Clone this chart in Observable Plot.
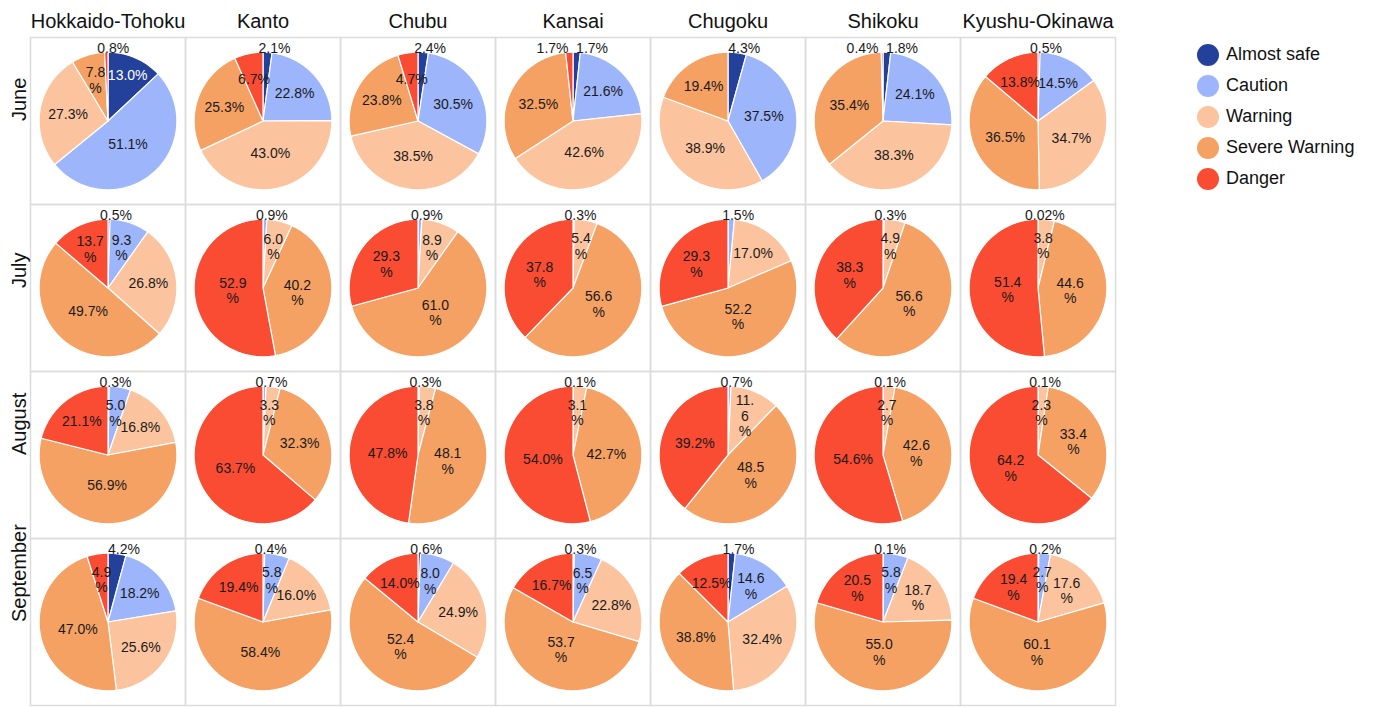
<!DOCTYPE html>
<html>
<head>
<meta charset="utf-8">
<script src="https://cdn.jsdelivr.net/npm/d3@7"></script>
<script src="https://cdn.jsdelivr.net/npm/@observablehq/plot@0.6"></script>
<style>
  html, body { margin: 0; padding: 0; background: #fff; }
  #wrap { position: relative; width: 1374px; height: 707px; font-family: "Liberation Sans", Arial, Helvetica, sans-serif; }
  #legend { position: absolute; left: 1197px; top: 39px; }
  .item { display: flex; align-items: center; height: 31px; font-size: 18px; color: #111; }
  .sw { width: 22px; height: 22px; border-radius: 50%; margin-right: 7px; }
</style>
</head>
<body>
<div id="wrap"><div id="legend"></div></div>
<script>
// ---- data ----
const regions = ["Hokkaido-Tohoku", "Kanto", "Chubu", "Kansai", "Chugoku", "Shikoku", "Kyushu-Okinawa"];
const months = ["June", "July", "August", "September"];
const levels = ["Almost safe", "Caution", "Warning", "Severe Warning", "Danger"];
const levelColors = ["#23409a", "#9db5fa", "#fbc49e", "#f5a163", "#f94c32"];

// shares (%) per region, in the order of `levels`
const june = [[13.0, 51.1, 27.3, 7.8, 0.8], [2.1, 22.8, 43.0, 25.3, 6.7], [2.4, 30.5, 38.5, 23.8, 4.7], [1.7, 21.6, 42.6, 32.5, 1.7], [4.3, 37.5, 38.9, 19.4, 0], [1.8, 24.1, 38.3, 35.4, 0.4], [0.5, 14.5, 34.7, 36.5, 13.8]];
const july = [[0.5, 9.3, 26.8, 49.7, 13.7], [0, 0.9, 6.0, 40.2, 52.9], [0, 0.9, 8.9, 61.0, 29.3], [0, 0.3, 5.4, 56.6, 37.8], [0, 1.5, 17.0, 52.2, 29.3], [0, 0.3, 4.9, 56.6, 38.3], [0, 0.02, 3.8, 44.6, 51.4]];
const august = [[0.3, 5.0, 16.8, 56.9, 21.1], [0, 0.7, 3.3, 32.3, 63.7], [0, 0.3, 3.8, 48.1, 47.8], [0, 0.1, 3.1, 42.7, 54.0], [0, 0.7, 11.6, 48.5, 39.2], [0, 0.1, 2.7, 42.6, 54.6], [0, 0.1, 2.3, 33.4, 64.2]];
const september = [[4.2, 18.2, 25.6, 47.0, 4.9], [0.4, 5.8, 16.0, 58.4, 19.4], [0.6, 8.0, 24.9, 52.4, 14.0], [0.3, 6.5, 22.8, 53.7, 16.7], [1.7, 14.6, 32.4, 38.8, 12.5], [0.1, 5.8, 18.7, 55.0, 20.5], [0.2, 2.7, 17.6, 60.1, 19.4]];

// label line-wrapping as in the source (per level: 0 none, 1 "%" on new line, 2 also break after ".")
const wrapJune = ["00010", "00000", "00000", "00000", "00000", "00000", "00000"];
const wrapJuly = ["01001", "00111", "00111", "00111", "00011", "00111", "00111"];
const wrapAugust = ["01000", "00100", "00110", "00100", "00210", "00110", "00111"];
const wrapSeptember = ["00001", "01000", "01010", "01010", "01000", "01111", "01111"];

const monthValues = [june, july, august, september];
const monthWraps = [wrapJune, wrapJuly, wrapAugust, wrapSeptember];

// ---- layout ----
const W = 1374, H = 707;
const mL = 29, mR = 258, mT = 36, mB = 1;
const R = 69; // pie radius in px
const cellW = (W - mL - mR) / regions.length;
const cellH = (H - mT - mB) / months.length;
const xHalf = cellW / 2 / R, yHalf = cellH / 2 / R;

// ---- build slice polygons and labels ----
const slicePts = [];
const inLabels = [];
const outLabels = [];
const fmt = v => v < 0.1 ? v.toFixed(2) + "%" : v.toFixed(1) + "%";

months.forEach((m, mi) => {
  regions.forEach((r, ri) => {
    const vals = monthValues[mi][ri];
    const wraps = monthWraps[mi][ri];
    const total = d3.sum(vals);
    let acc = 0;
    const outs = [];
    vals.forEach((v, li) => {
      if (v <= 0) return;
      const a0 = acc / total * 2 * Math.PI;
      acc += v;
      const a1 = acc / total * 2 * Math.PI;
      const key = m + "|" + r + "|" + li;
      const n = Math.max(2, Math.ceil((a1 - a0) / (Math.PI / 180)));
      slicePts.push({month: m, region: r, level: levels[li], key, x: 0, y: 0});
      for (let k = 0; k <= n; k++) {
        const a = a0 + (a1 - a0) * k / n;
        slicePts.push({month: m, region: r, level: levels[li], key, x: Math.sin(a), y: Math.cos(a)});
      }
      slicePts.push({month: m, region: r, level: levels[li], key, x: 0, y: 0});
      const mid = (a0 + a1) / 2;
      const outside = v < 2 || (li === 0 && v < 5);
      let txt = fmt(v);
      if (outside) {
        outs.push({month: m, region: r, text: txt, mid});
      } else {
        const w = wraps[li];
        if (w === "2") txt = txt.replace(".", ".\n");
        if (w !== "0") txt = txt.replace("%", "\n%");
        const h = (a1 - a0) / 2;
        let rl = Math.max((2 / 3) * Math.sin(h) / h, 0.44);
        rl = Math.min(rl, li === 0 ? 0.78 : 0.62);
        if (li === 0) rl = Math.max(rl, 0.72);
        inLabels.push({month: m, region: r, text: txt, x: rl * Math.sin(mid), y: rl * Math.cos(mid), light: li === 0});
      }
    });
    if (outs.length === 1) {
      const o = outs[0];
      outLabels.push({...o, x: Math.sin(o.mid) + 0.1, y: 1.06, anchor: "middle"});
    } else if (outs.length === 2) {
      outs.forEach(o => {
        if (o.mid > Math.PI) outLabels.push({...o, x: -0.065, y: 1.06, anchor: "end"});
        else outLabels.push({...o, x: 0.045, y: 1.06, anchor: "start"});
      });
    }
  });
});

const textStyle = {fontSize: 14, lineHeight: 1.1};

const chart = Plot.plot({
  width: W,
  height: H,
  marginLeft: mL,
  marginRight: mR,
  marginTop: mT,
  marginBottom: mB,
  style: {fontFamily: "'Liberation Sans', Arial, Helvetica, sans-serif", fontSize: "14px", background: "white", color: "#111"},
  fx: {domain: regions, padding: 0, axis: null},
  fy: {domain: months, padding: 0, axis: null},
  x: {domain: [-xHalf, xHalf], axis: null},
  y: {domain: [-yHalf, yHalf], axis: null},
  color: {domain: levels, range: levelColors},
  marks: [
    Plot.frame({stroke: "#dcdcdc", strokeWidth: 1.5}),
    Plot.line(slicePts, {
      x: "x", y: "y", z: "key", fx: "region", fy: "month",
      fill: "level", stroke: "white", strokeWidth: 1.2, curve: "linear"
    }),
    Plot.text(inLabels, {
      x: "x", y: "y", fx: "region", fy: "month", text: "text",
      fill: d => d.light ? "white" : "#1a1a1a", ...textStyle
    }),
    Plot.text(outLabels.filter(d => d.anchor === "middle"), {
      x: "x", y: "y", fx: "region", fy: "month", text: "text", fill: "#1a1a1a", textAnchor: "middle", ...textStyle
    }),
    Plot.text(outLabels.filter(d => d.anchor === "start"), {
      x: "x", y: "y", fx: "region", fy: "month", text: "text", fill: "#1a1a1a", textAnchor: "start", ...textStyle
    }),
    Plot.text(outLabels.filter(d => d.anchor === "end"), {
      x: "x", y: "y", fx: "region", fy: "month", text: "text", fill: "#1a1a1a", textAnchor: "end", ...textStyle
    }),
    // column titles
    Plot.text(regions, {
      fx: d => d, fy: () => months[0], frameAnchor: "top", text: d => d,
      dy: -16, fontSize: 20, fill: "#111", lineAnchor: "middle"
    }),
    // row titles
    Plot.text(months, {
      fx: () => regions[0], fy: d => d, frameAnchor: "left", text: d => d,
      rotate: -90, dx: -11, fontSize: 20, fill: "#111", lineAnchor: "middle"
    })
  ]
});

const wrap = document.getElementById("wrap");
wrap.insertBefore(chart, wrap.firstChild);

const legend = document.getElementById("legend");
levels.forEach((l, i) => {
  const item = document.createElement("div");
  item.className = "item";
  const sw = document.createElement("div");
  sw.className = "sw";
  sw.style.background = levelColors[i];
  const t = document.createElement("span");
  t.textContent = l;
  item.appendChild(sw);
  item.appendChild(t);
  legend.appendChild(item);
});
</script>
</body>
</html>
